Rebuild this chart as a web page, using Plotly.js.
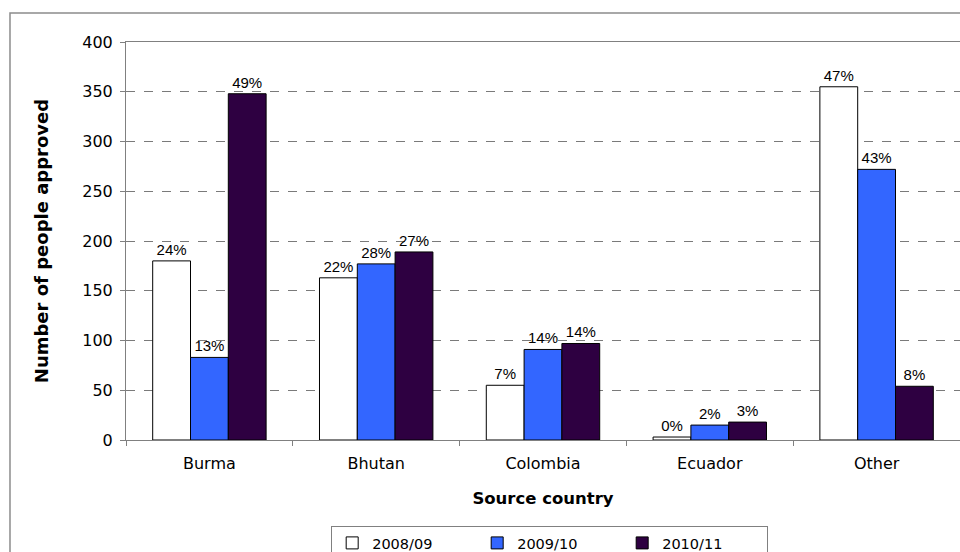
<!DOCTYPE html>
<html>
<head>
<meta charset="utf-8">
<script src="https://cdn.plot.ly/plotly-3.0.1.min.js"></script>
<style>html,body{margin:0;padding:0;background:#fff;overflow:hidden;}</style>
</head>
<body>
<div id="chart" style="width:960px;height:552px;"></div>
<script>
const categories = ["Burma", "Bhutan", "Colombia", "Ecuador", "Other"];
const seriesNames = ["2008/09", "2009/10", "2010/11"];
const values0809 = [180, 163, 55, 3, 355];
const values0910 = [83, 177, 91, 15, 272];
const values1011 = [348, 189, 97, 18, 54];
const pct0809 = ["24%", "22%", "7%", "0%", "47%"];
const pct0910 = ["13%", "28%", "14%", "2%", "43%"];
const pct1011 = ["49%", "27%", "14%", "3%", "8%"];
const yTicks = [0, 50, 100, 150, 200, 250, 300, 350, 400];

const colors = ["#ffffff", "#3366ff", "#2e0041"];
const axisFont = {family: "DejaVu Sans, Verdana, sans-serif", size: 16, color: "#000"};
const legendFont = {family: "DejaVu Sans, Verdana, sans-serif", size: 14.5, color: "#000"};
const xTitleFont = {family: "DejaVu Sans, Verdana, sans-serif", size: 16.5, color: "#000", weight: "bold"};
const yTitleFont = {family: "DejaVu Sans, Verdana, sans-serif", size: 18, color: "#000", weight: "bold"};
const labelFont = {family: "Liberation Sans, Arial, sans-serif", size: 15, color: "#000"};

const allValues = [values0809, values0910, values1011];
const allPct = [pct0809, pct0910, pct1011];

const traces = seriesNames.map((name, i) => ({
  type: "bar",
  name: name,
  x: categories,
  y: allValues[i],
  text: allPct[i],
  textposition: "outside",
  textfont: labelFont,
  constraintext: "none",
  cliponaxis: false,
  marker: {color: colors[i], line: {color: "#000", width: 1}},
  hoverinfo: "x+y+name"
}));

const layout = {
  width: 960,
  height: 552,
  margin: {l: 126, r: 0, t: 42, b: 112, autoexpand: false},
  paper_bgcolor: "#fff",
  plot_bgcolor: "#fff",
  barmode: "group",
  bargap: 0.32,
  bargroupgap: 0,
  showlegend: true,
  legend: {
    orientation: "h",
    x: 0.508, xanchor: "center",
    y: -0.216, yanchor: "top",
    bordercolor: "#808080", borderwidth: 1,
    font: legendFont,
    entrywidth: 100, entrywidthmode: "pixels",
    itemwidth: 30,
    traceorder: "normal"
  },
  xaxis: {
    type: "category",
    showline: true, linecolor: "#808080", linewidth: 1, mirror: true,
    ticks: "outside", tickson: "boundaries", ticklen: 5, tickcolor: "#808080",
    tickfont: axisFont,
    ticklabelstandoff: 9,
    showgrid: false,
    automargin: false,
    title: {text: "Source country", font: xTitleFont, standoff: 20},
    fixedrange: true
  },
  yaxis: {
    range: [0, 400],
    tickvals: yTicks,
    showline: true, linecolor: "#808080", linewidth: 1,
    ticks: "outside", ticklen: 5, tickcolor: "#808080",
    tickfont: axisFont,
    ticklabelstandoff: 4,
    showgrid: true, gridcolor: "#7a7a7a", griddash: "dash", gridwidth: 1,
    zeroline: false,
    automargin: false,
    title: {text: "Number of people approved", font: yTitleFont, standoff: 28},
    fixedrange: true
  },
  shapes: [{
    type: "rect", xref: "paper", yref: "paper",
    x0: -0.1391, x1: 1.0012, y0: -0.3015, y1: 1.0729,
    line: {color: "#8c8c8c", width: 1.5}, fillcolor: "rgba(0,0,0,0)", layer: "below"
  }]
};

Plotly.newPlot("chart", traces, layout, {displayModeBar: false, staticPlot: true});
</script>
</body>
</html>
